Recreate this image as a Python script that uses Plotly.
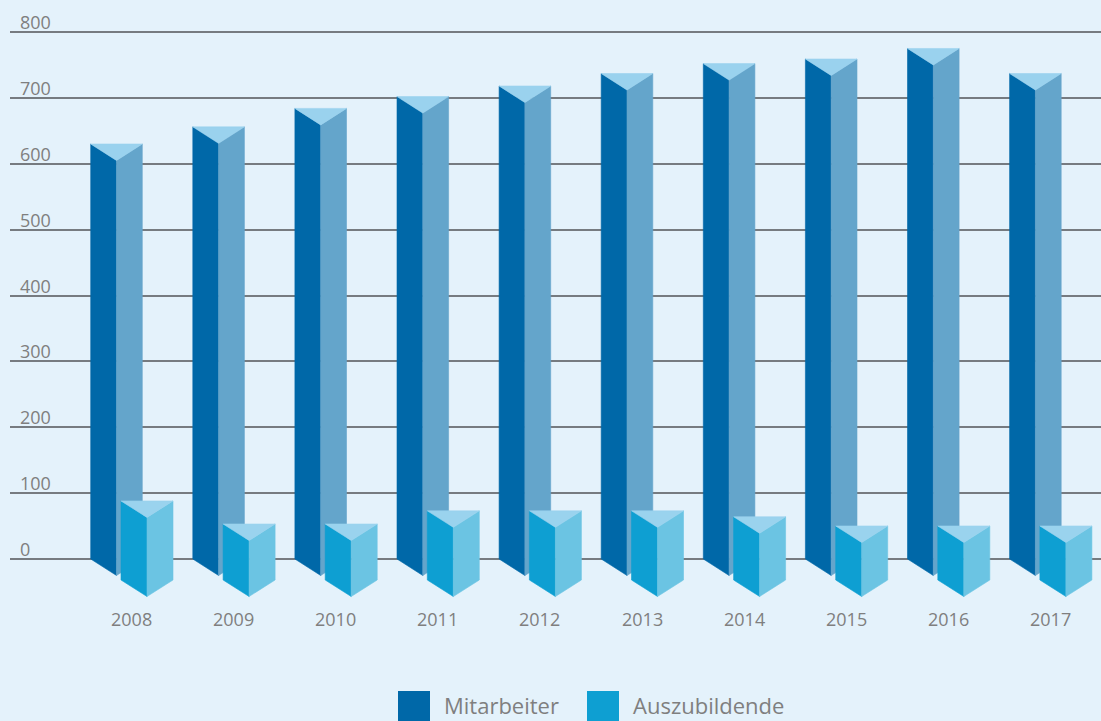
import plotly.graph_objects as go

years = ["2008", "2009", "2010", "2011", "2012", "2013", "2014", "2015", "2016", "2017"]
mitarbeiter = [630, 656, 684, 702, 718, 737, 752, 759, 775, 737]
auszubildende = [120, 85, 85, 105, 105, 105, 96, 82, 82, 82]
y_ticks = [0, 100, 200, 300, 400, 500, 600, 700, 800]
series_names = ["Mitarbeiter", "Auszubildende"]

BG = "#E4F2FB"
TXT = "#7F7F7F"
GRID = "#767B80"

# pixel geometry helpers (axis units)
PX_X = 102.1      # pixels per category
PX_Y = 0.65875    # pixels per value unit
DROP = 16.5 / PX_Y   # vertical drop of prism front vertex
FRONT_BASE = -21 / PX_Y  # floor of front row


def prism_faces(values, left, width, base):
    lf_x, lf_y, rf_x, rf_y, tp_x, tp_y = [], [], [], [], [], []
    for i, v in enumerate(values):
        L = i + left
        M = L + width / 2
        R = L + width
        top = base + v
        lf_x += [L, L, M, M, L, None]
        lf_y += [base, top, top - DROP, base - DROP, base, None]
        rf_x += [M, M, R, R, M, None]
        rf_y += [base - DROP, top - DROP, top, base, base - DROP, None]
        tp_x += [L, R, M, L, None]
        tp_y += [top, top, top - DROP, top, None]
    return (lf_x, lf_y), (rf_x, rf_y), (tp_x, tp_y)


fig = go.Figure()


def add_prisms(values, left, width, base, c_left, c_right, c_top, name):
    (lx, ly), (rx, ry), (tx, ty) = prism_faces(values, left, width, base)
    for xs, ys, col in [(lx, ly, c_left), (rx, ry, c_right), (tx, ty, c_top)]:
        fig.add_trace(go.Scatter(
            x=xs, y=ys, mode="lines", fill="toself", fillcolor=col,
            line=dict(width=0.6, color=col), hoverinfo="skip",
            showlegend=False, name=name))


bw = 51.6 / PX_X
add_prisms(mitarbeiter, -40.8 / PX_X, bw, 0, "#0068A8", "#64A5CB", "#9AD2EE", series_names[0])
add_prisms(auszubildende, -10.5 / PX_X, 52 / PX_X, FRONT_BASE, "#0E9FD2", "#6BC4E3", "#9AD3EE", series_names[1])

# axis ranges so that category i sits at pixel 131.5 + 102.1*i; value 0 at pixel 559
x0 = (10 - 131.5) / PX_X
x1 = (1101 - 131.5) / PX_X
y_top = 559 / PX_Y
y_bot = (559 - 721) / PX_Y

annotations = []
for t in y_ticks:
    annotations.append(dict(x=8 / 1091, xref="paper", y=t, yref="y", text=str(t),
                            showarrow=False, xanchor="left", yanchor="bottom", yshift=-4,
                            font=dict(size=18, color=TXT, family="Open Sans")))
for i, yr in enumerate(years):
    annotations.append(dict(x=i, xref="x", y=(559 - 619) / PX_Y, yref="y", text=yr,
                            showarrow=False, xanchor="center", yanchor="middle",
                            font=dict(size=18, color=TXT, family="Open Sans")))

# legend (custom)
shapes = []
leg = [(398, 442, "#0068A8"), (587, 631, "#0E9FD2")]
for (sx, tx, col), nm in zip(leg, series_names):
    shapes.append(dict(type="rect", xref="paper", yref="paper",
                       x0=(sx - 10) / 1091, x1=(sx + 32 - 10) / 1091,
                       y0=-0.01, y1=(721 - 691) / 721,
                       fillcolor=col, line=dict(width=0)))
    annotations.append(dict(x=(tx - 10) / 1091, xref="paper", y=(721 - 705) / 721, yref="paper",
                            text=nm, showarrow=False, xanchor="left", yanchor="middle",
                            font=dict(size=22, color=TXT, family="Open Sans")))

fig.update_layout(
    width=1101, height=721,
    margin=dict(l=10, r=0, t=0, b=0),
    paper_bgcolor=BG, plot_bgcolor=BG,
    xaxis=dict(range=[x0, x1], showgrid=False, zeroline=False, showticklabels=False,
               fixedrange=True),
    yaxis=dict(range=[y_bot, y_top], tickvals=y_ticks, showgrid=True, gridcolor=GRID,
               gridwidth=2, zeroline=False, showticklabels=False, fixedrange=True),
    annotations=annotations, shapes=shapes, showlegend=False,
)

fig.write_html("out.html")
